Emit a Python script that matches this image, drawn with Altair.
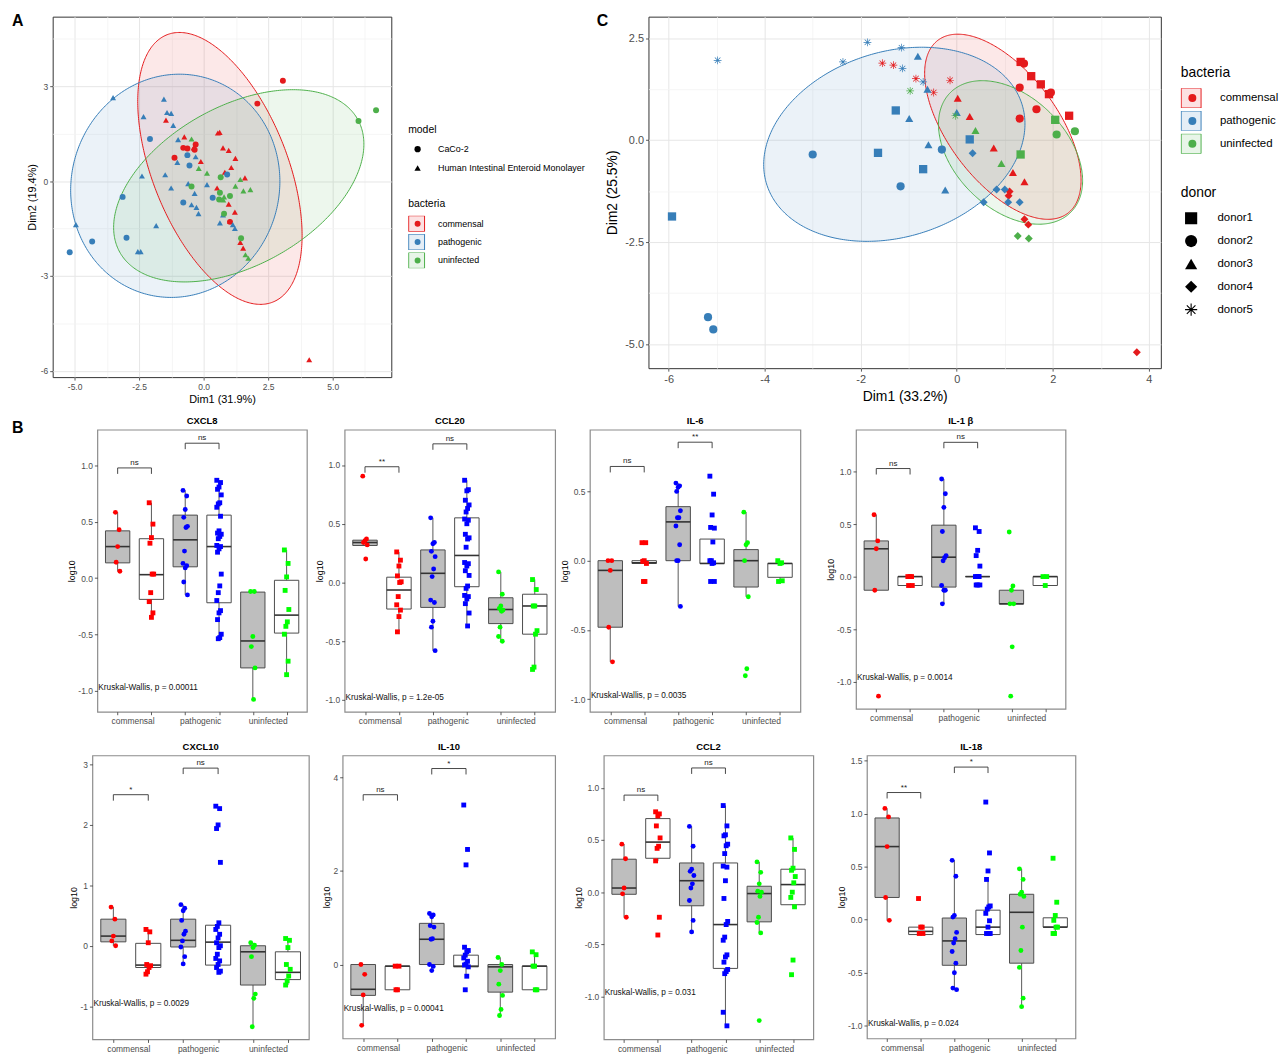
import math
import pandas as pd
import altair as alt

FONT = "Liberation Sans"
MINUS = "replace(datum.label, '\u2212', '-')"
BACTERIA = ["commensal", "pathogenic", "uninfected"]
SET1 = ["#E41A1C", "#377EB8", "#4DAF4A"]

# ------------------------------------------------------------------ Panel A
a_com_caco_x = [3.07, 2.08, -1.13, -0.79, -0.63, -0.31, -0.35, 1.02]
a_com_caco_y = [3.17, 2.45, 0.74, 1.05, 1.03, 1.16, 0.99, -1.29]
a_com_hiem_x = [4.09, -1.46, -0.75, 0.55, 0.62, -0.39, -0.11, 0.75, 0.97, 1.23, 1.07, 0.82, 1.6, 0.52, 0.97, 1.21, 1.02, 1.42, 1.53]
a_com_hiem_y = [-5.65, 1.93, 1.4, 1.52, 1.54, 1.05, 0.62, 1.05, 0.97, 0.72, 0.43, 0.28, 0.1, -0.22, -0.73, -0.98, -1.27, -1.94, -2.12]
a_pat_caco_x = [-5.19, -4.32, -2.99, -3.14, -2.08, -0.63, -0.55, -0.79, 0.35, 0.91]
a_pat_caco_y = [-2.25, -1.91, -1.79, -0.5, 1.33, 0.82, 0.49, -0.68, -0.53, 0.21]
a_pat_hiem_x = [-3.51, -1.54, -1.42, -1.26, -2.33, -1.18, -0.99, -1.02, -2.39, -1.49, -1.26, -0.6, -0.31, -0.35, 0.13, -0.47, -0.28, -0.2, 0.75, 0.63, 1.13, 1.21, -1.84, -4.95, -2.55, -2.44]
a_pat_hiem_y = [2.64, 2.59, 2.17, 2.14, 2.04, 1.76, 1.31, 0.59, 0.16, 0.2, -0.22, -0.08, 0.77, -0.39, -0.11, -0.75, -0.83, -1.03, -1.07, -1.32, -1.38, -1.5, -1.41, -1.38, -2.23, -2.23]
a_uni_caco_x = [6.68, 6.0, -0.47, 0.66, 0.63, 1.02, 0.6, 0.79, 1.45]
a_uni_caco_y = [2.24, 1.9, -0.17, 0.12, -0.37, -0.47, -0.58, -1.03, -1.81]
a_uni_hiem_x = [-0.47, -0.19, 0.13, 1.23, 1.42, 1.54, 1.81, 0.79, 0.76, 1.62, 1.73]
a_uni_hiem_y = [1.33, 0.4, 0.25, -0.16, 0.05, -0.31, -0.27, -0.5, -0.6, -2.33, -2.44]
A_MODELS = ["CaCo-2", "Human Intestinal Enteroid Monolayer"]

# ellipses: centre, top conjugate semi-axis (ux, uy), horizontal semi-axis h
a_ell_cx = [0.63, -1.1, 1.36]
a_ell_cy = [0.4, -0.15, -0.15]
a_ell_ux = [-1.57, 0.16, 2.1]
a_ell_uy = [4.3, 3.53, 3.04]
a_ell_h = [2.77, 4.05, 4.37]

# ------------------------------------------------------------------ Panel C
c_com_x = [-1.55, -1.32, -0.85, -0.48, -0.14, 1.33, 1.55, 1.75, 1.92, 2.34, 1.4, 1.31, 1.96, 1.66, 1.31, 0.02, 0.27, 0.77, 1.17, 1.41, 1.1, 1.08, 1.41, 1.49, 3.75]
c_com_y = [1.89, 1.84, 1.51, 1.17, 1.47, 1.92, 1.57, 1.37, 1.13, 0.6, 1.88, 1.29, 1.17, 0.76, 0.53, 1.03, 0.58, -0.19, -0.79, -1.02, -1.26, -1.36, -1.94, -2.07, -5.2]
c_com_d = ["donor5"] * 5 + ["donor1"] * 5 + ["donor2"] * 5 + ["donor3"] * 5 + ["donor4"] * 5
c_pat_x = [-4.98, -2.37, -1.86, -1.15, -1.13, -0.7, -5.93, -1.27, -1.64, -0.7, 0.27, -5.18, -5.07, -3.0, -1.17, -0.31, -0.81, -0.61, -0.99, -0.59, -0.24, 0.0, 0.33, 0.56, 0.83, 1.0, 1.07, 1.31]
c_pat_y = [1.96, 1.92, 2.4, 2.27, 1.76, 1.43, -1.87, 0.73, -0.31, -0.71, 0.02, -4.34, -4.64, -0.35, -1.13, -0.23, 2.06, 1.25, 0.53, -0.11, -1.22, 0.68, -0.32, -1.52, -1.21, -1.21, -1.52, -1.52]
c_pat_d = ["donor5"] * 6 + ["donor1"] * 5 + ["donor2"] * 5 + ["donor3"] * 6 + ["donor4"] * 6
c_uni_x = [-0.97, -0.03, 2.05, 1.33, 2.08, 2.46, 0.39, 0.93, 1.27, 1.5]
c_uni_y = [1.21, 0.6, 0.5, -0.35, 0.14, 0.22, 0.24, -0.57, -2.35, -2.41]
c_uni_d = ["donor5"] * 2 + ["donor1"] * 2 + ["donor2"] * 2 + ["donor3"] * 2 + ["donor4"] * 2
DONORS = ["donor1", "donor2", "donor3", "donor4", "donor5"]

c_ell_cx = [0.96, -1.3, 1.12]
c_ell_cy = [0.33, -0.1, -0.3]
c_ell_ux = [-0.94, 0.57, -0.59]
c_ell_uy = [2.27, 2.38, 1.76]
c_ell_h = [1.33, 2.66, 1.38]

# ------------------------------------------------------------------ Panel B (box plots)
# group order: commensal CaCo-2, commensal HIEM, pathogenic CaCo-2, pathogenic HIEM, uninfected CaCo-2, uninfected HIEM
cxcl8_pts = [
    [0.585, 0.43, 0.28, 0.14, 0.06],
    [0.67, 0.48, 0.36, 0.31, 0.035, 0.035, -0.13, -0.21, -0.31, -0.35],
    [0.78, 0.73, 0.61, 0.54, 0.46, 0.45, 0.24, 0.13, 0.11, 0.09, -0.035, -0.15],
    [0.87, 0.85, 0.81, 0.79, 0.74, 0.67, 0.66, 0.63, 0.55, 0.42, 0.40, 0.39, 0.37, 0.35, 0.29, 0.28, 0.26, 0.23, 0.035, -0.07, -0.13, -0.2, -0.29, -0.31, -0.37, -0.5, -0.53, -0.54],
    [-0.12, -0.12, -0.52, -0.61, -0.8, -1.08],
    [0.25, 0.13, 0.01, -0.11, -0.28, -0.39, -0.43, -0.5, -0.74, -0.86],
]
cxcl8_box = [[0.135, 0.28, 0.42, 0.06, 0.585], [-0.19, 0.03, 0.35, -0.35, 0.67], [0.10, 0.34, 0.56, -0.15, 0.78],
             [-0.22, 0.28, 0.56, -0.54, 0.87], [-0.8, -0.56, -0.125, -1.08, -0.12], [-0.49, -0.33, -0.02, -0.86, 0.25]]

ccl20_pts = [
    [0.905, 0.37, 0.355, 0.34, 0.32, 0.2],
    [0.26, 0.19, 0.14, 0.056, 0.006, 0.0, -0.12, -0.19, -0.235, -0.29, -0.42],
    [0.55, 0.34, 0.33, 0.265, 0.22, 0.115, 0.05, -0.15, -0.17, -0.33, -0.38, -0.58],
    [0.87, 0.79, 0.78, 0.70, 0.66, 0.63, 0.60, 0.54, 0.53, 0.50, 0.41, 0.38, 0.37, 0.30, 0.17, 0.16, 0.14, 0.10, 0.06, -0.03, -0.05, -0.11, -0.12, -0.14, -0.18, -0.26, -0.37],
    [0.09, -0.1, -0.2, -0.22, -0.235, -0.245, -0.38, -0.46, -0.5],
    [0.025, -0.06, -0.2, -0.2, -0.41, -0.44, -0.72, -0.74],
]
ccl20_box = [[0.315, 0.34, 0.36, 0.315, 0.36], [-0.226, -0.064, 0.045, -0.42, 0.26], [-0.212, 0.078, 0.277, -0.58, 0.55],
             [-0.036, 0.23, 0.55, -0.37, 0.87], [-0.35, -0.23, -0.13, -0.5, 0.09], [-0.44, -0.2, -0.1, -0.74, 0.025]]

il6_pts = [
    [0.0, 0.0, -0.07, -0.48, -0.73],
    [0.13, 0.13, 0.0, -0.005, -0.02, -0.15, -0.15],
    [0.56, 0.54, 0.53, 0.50, 0.36, 0.31, 0.31, 0.25, 0.115, 0.0, 0.0, -0.33],
    [0.61, 0.48, 0.33, 0.24, 0.235, 0.135, 0.0, 0.0, -0.015, -0.02, -0.15, -0.15],
    [0.35, 0.13, 0.115, 0.0, -0.26, -0.78, -0.83],
    [0.0, -0.015, -0.02, -0.15, -0.145],
]
il6_box = [[-0.48, -0.07, 0.0, -0.73, 0.0], [-0.02, -0.015, 0.0, -0.02, 0.0], [0.0, 0.28, 0.39, -0.33, 0.56],
           [-0.02, -0.02, 0.156, -0.02, 0.156], [-0.19, 0.0, 0.08, -0.26, 0.35], [-0.12, -0.02, -0.02, -0.15, -0.02]]

il1b_pts = [
    [0.59, 0.34, 0.265, -0.13, -1.14],
    [0.0, 0.0, 0.0, -0.085, -0.085],
    [0.93, 0.79, 0.66, 0.43, 0.2, 0.18, 0.15, -0.085, -0.13, -0.13, -0.26],
    [0.465, 0.43, 0.25, 0.2, 0.1, 0.0, 0.0, 0.0, 0.0, -0.08, -0.08, -0.08],
    [0.425, -0.09, -0.13, -0.26, -0.26, -0.67, -1.14],
    [0.0, 0.0, -0.085],
]
il1b_box = [[-0.13, 0.265, 0.34, -0.13, 0.59], [-0.085, 0.0, 0.0, -0.085, 0.0], [-0.1, 0.185, 0.49, -0.26, 0.93],
            [0.0, 0.0, 0.0, 0.0, 0.0], [-0.26, -0.26, -0.13, -0.26, -0.09], [-0.085, 0.0, 0.0, -0.085, 0.0]]

cxcl10_pts = [
    [0.64, 0.44, 0.16, 0.08, 0.0],
    [0.27, 0.23, 0.05, -0.31, -0.33, -0.36, -0.43, -0.47],
    [0.68, 0.62, 0.58, 0.42, 0.24, 0.19, 0.08, -0.02, -0.18, -0.3],
    [2.31, 2.27, 2.0, 1.94, 1.38, 0.38, 0.32, 0.27, 0.19, 0.13, 0.05, 0.0, -0.03, -0.14, -0.21, -0.25, -0.31, -0.36, -0.42, -0.44],
    [0.05, 0.01, -0.03, -0.18, -0.8, -0.87, -1.34],
    [0.12, 0.09, -0.03, -0.31, -0.39, -0.5, -0.58, -0.65],
]
cxcl10_box = [[0.065, 0.16, 0.44, 0.0, 0.64], [-0.36, -0.32, 0.04, -0.47, 0.27], [-0.02, 0.09, 0.44, -0.3, 0.68],
              [-0.32, 0.06, 0.34, -0.44, 0.38], [-0.65, -0.1, 0.0, -1.34, 0.05], [-0.56, -0.44, -0.1, -0.65, 0.12]]

il10_pts = [
    [0.0, -0.21, -0.65, -1.3],
    [-0.035, -0.035, -0.54, -0.54],
    [1.09, 1.06, 1.02, 0.83, 0.8, 0.55, 0.54, 0.0, -0.04, -0.13],
    [3.41, 2.46, 2.13, 0.37, 0.3, 0.27, 0.2, 0.14, 0.07, 0.01, -0.01, -0.05, -0.25, -0.54],
    [0.15, 0.0, -0.13, -0.42, -0.66, -0.96, -1.09],
    [0.27, 0.21, -0.035, -0.035, -0.54, -0.54],
]
il10_box = [[-0.66, -0.53, 0.0, -1.3, 0.0], [-0.54, -0.035, -0.035, -0.54, -0.035], [0.0, 0.54, 0.88, -0.13, 1.09],
            [-0.05, -0.035, 0.2, -0.25, 0.37], [-0.59, -0.05, 0.0, -1.09, 0.15], [-0.54, -0.035, -0.035, -0.54, 0.27]]

ccl2_pts = [
    [0.46, 0.32, 0.04, -0.016, -0.24],
    [0.77, 0.75, 0.73, 0.635, 0.52, 0.44, 0.42, 0.3, -0.24, -0.41],
    [0.63, 0.44, 0.22, 0.2, 0.16, 0.08, 0.04, -0.08, -0.27, -0.38],
    [0.83, 0.635, 0.55, 0.54, 0.46, 0.445, 0.37, 0.25, 0.24, 0.11, -0.06, -0.28, -0.31, -0.43, -0.46, -0.6, -0.62, -0.67, -0.74, -0.76, -0.78, -1.15, -1.28],
    [0.29, 0.19, 0.08, 0.01, 0.0, -0.04, -0.24, -0.29, -0.39, -1.23],
    [0.52, 0.41, 0.23, 0.21, 0.15, 0.09, 0.0, -0.05, -0.14, -0.65, -0.79],
]
ccl2_box = [[-0.02, 0.04, 0.316, -0.24, 0.46], [0.325, 0.48, 0.705, 0.3, 0.77], [-0.13, 0.11, 0.28, -0.38, 0.63],
            [-0.73, -0.31, 0.28, -1.28, 0.83], [-0.284, -0.013, 0.057, -0.39, 0.29], [-0.12, 0.073, 0.22, -0.14, 0.52]]

il18_pts = [
    [1.05, 0.97, 0.69, 0.21, -0.006],
    [0.2, -0.07, -0.07, -0.13, -0.13],
    [0.56, 0.41, 0.04, 0.025, -0.12, -0.18, -0.22, -0.3, -0.41, -0.5, -0.645, -0.66],
    [1.11, 0.63, 0.46, 0.38, 0.13, 0.12, 0.1, 0.06, -0.01, -0.07, -0.13, -0.13, -0.13],
    [0.48, 0.38, 0.26, 0.24, 0.22, -0.07, -0.29, -0.45, -0.74, -0.82],
    [0.58, 0.165, 0.04, -0.006, -0.07, -0.07, -0.13, -0.13],
]
il18_box = [[0.21, 0.69, 0.96, -0.006, 1.05], [-0.14, -0.11, -0.07, -0.14, -0.07], [-0.43, -0.2, 0.016, -0.66, 0.56],
            [-0.14, -0.07, 0.09, -0.14, 0.38], [-0.41, 0.07, 0.24, -0.82, 0.48], [-0.07, -0.07, 0.018, -0.13, 0.04]]

# bracket heights / labels (commensal pair, pathogenic pair), Kruskal-Wallis p
cxcl8_brk, cxcl8_sig, cxcl8_p = [0.98, 1.2], ["ns", "ns"], "0.00011"
ccl20_brk, ccl20_sig, ccl20_p = [0.985, 1.18], ["**", "ns"], "1.2e-05"
il6_brk, il6_sig, il6_p = [0.68, 0.855], ["ns", "**"], "0.0035"
il1b_brk, il1b_sig, il1b_p = [1.03, 1.28], ["ns", "ns"], "0.0014"
cxcl10_brk, cxcl10_sig, cxcl10_p = [2.5, 2.94], ["*", "ns"], "0.0029"
il10_brk, il10_sig, il10_p = [3.63, 4.19], ["ns", "*"], "0.00041"
ccl2_brk, ccl2_sig, ccl2_p = [0.93, 1.19], ["ns", "ns"], "0.031"
il18_brk, il18_sig, il18_p = [1.2, 1.44], ["**", "*"], "0.024"

GROUP_POS = [0.75, 1.25, 1.75, 2.25, 2.75, 3.25]
GROUP_BAC = ["commensal", "commensal", "pathogenic", "pathogenic", "uninfected", "uninfected"]
GROUP_MOD = ["CaCo-2", "HIEM"] * 3
PURE = ["#FF0000", "#0000FF", "#00FF00"]


def ellipse_frames(cx, cy, ux, uy, hx, fkey, ekey):
    area, line = [], []
    for i, name in enumerate(BACTERIA):
        R = math.hypot(ux[i], hx[i])
        for k in range(181):
            ph = math.pi * k / 180
            c, s = math.cos(ph), math.sin(ph)
            area.append({"x": cx[i] + R * c,
                         "ya": cy[i] + uy[i] * (ux[i] * c + hx[i] * s) / R,
                         "yb": cy[i] + uy[i] * (ux[i] * c - hx[i] * s) / R,
                         fkey: name})
        for k in range(361):
            ph = 2 * math.pi * k / 360
            c, s = math.cos(ph), math.sin(ph)
            line.append({"x": cx[i] + R * c,
                         "y": cy[i] + uy[i] * (ux[i] * c + hx[i] * s) / R,
                         ekey: name, "o": k})
    return pd.DataFrame(area), pd.DataFrame(line)


def star_path(t=0.09):
    parts = []
    for ang in (0, 45, 90, 135):
        a = math.radians(ang)
        c, s = math.cos(a), math.sin(a)
        pts = [(-1, -t), (1, -t), (1, t), (-1, t)]
        rp = [(x * c - y * s, x * s + y * c) for x, y in pts]
        parts.append("M" + "L".join(f"{x:.3f},{y:.3f}" for x, y in rp) + "Z")
    return "".join(parts)


def letter_layer(ch, dx, dy):
    return alt.Chart(pd.DataFrame({"t": [ch]})).mark_text(
        align="left", baseline="top", fontSize=16, fontWeight="bold", color="black"
    ).encode(text="t:N", x=alt.value(dx), y=alt.value(dy))


def phantom(dx):
    return alt.Chart(pd.DataFrame({"a": [0]})).mark_rule(opacity=0, strokeOpacity=0).encode(
        x=alt.value(dx), y=alt.value(0), y2=alt.value(1))


def spacer():
    return phantom(0).properties(width=1, height=1, view=alt.ViewBackground(stroke=None))


def pca_chart(pts, area, line, st, shape_enc, size_enc, extra):
    xs = alt.Scale(domain=st["xdom"], nice=False, zero=False)
    ys = alt.Scale(domain=st["ydom"], nice=False, zero=False)
    common_ax = dict(grid=True, gridColor="#E6E6E6", gridWidth=1, domain=False, tickSize=3,
                     tickColor="#333333", tickWidth=0.8, labelFontSize=st["lab"], labelColor="#4D4D4D",
                     labelPadding=2, titleFontSize=st["tit"], titleFontWeight="normal", titleColor="black",
                     labelFlush=False, labelOverlap=False, labelExpr=MINUS, minExtent=0)
    major_x = alt.Axis(values=st["xmaj"], format=st["xfmt"], title=st["xtitle"], titlePadding=st["xtp"], **common_ax)
    major_y = alt.Axis(values=st["ymaj"], format=st["yfmt"], title=st["ytitle"], titlePadding=st["ytp"], **common_ax)
    minor_x = alt.Axis(orient="top", values=st["xmin"], grid=True, gridColor="#F2F2F2", gridWidth=0.8,
                       labels=False, ticks=False, domain=False, title=None, minExtent=0, maxExtent=0)
    minor_y = alt.Axis(orient="right", values=st["ymin"], grid=True, gridColor="#F2F2F2", gridWidth=0.8,
                       labels=False, ticks=False, domain=False, title=None, minExtent=0, maxExtent=0)
    leg = dict(orient="none", legendX=st["legx"], legendY=st["bacy"], direction="vertical",
               titleFontSize=st["ltit"], titleFontWeight="normal", titleColor="black", titlePadding=st["ltp"],
               labelFontSize=st["llab"], labelColor="black", clipHeight=st["box"], rowPadding=st["rowpad"],
               padding=0)
    hidden = dict(title=" ", labelExpr="''")
    area_l = alt.Chart(area).mark_area(fillOpacity=0.1).encode(
        x=alt.X("x:Q", scale=xs, axis=minor_x),
        y=alt.Y("ya:Q", scale=ys, axis=minor_y),
        y2="yb:Q",
        fill=alt.Fill("bac_f:N", scale=alt.Scale(range=SET1), legend=alt.Legend(
            symbolType="square", symbolSize=st["box"] ** 2, labelOffset=st["box_lo"],
            symbolOpacity=0.13, symbolStrokeWidth=0, **hidden, **leg)),
    )
    line_l = alt.Chart(line).mark_line(strokeWidth=1).encode(
        x=alt.X("x:Q", scale=xs, axis=None),
        y=alt.Y("y:Q", scale=ys, axis=None),
        stroke=alt.Stroke("bac_e:N", scale=alt.Scale(range=SET1), legend=alt.Legend(
            symbolType="square", symbolSize=st["box"] ** 2, labelOffset=st["box_lo"],
            symbolFillColor="transparent", symbolStrokeWidth=1, **hidden, **leg)),
        order=alt.Order("o:Q"),
    )
    enc = dict(
        x=alt.X("x:Q", scale=xs, axis=major_x),
        y=alt.Y("y:Q", scale=ys, axis=major_y),
        color=alt.Color("bacteria:N", scale=alt.Scale(range=SET1), legend=alt.Legend(
            title="bacteria", symbolType="circle", symbolSize=st["dot"], symbolOffset=st["dot_off"],
            labelOffset=st["dot_lo"], symbolStrokeWidth=0, **leg)),
        shape=shape_enc,
    )
    if size_enc is not None:
        enc["size"] = size_enc
    pts_l = alt.Chart(pts).mark_point(filled=True, opacity=1, size=st["psize"]).encode(**enc)
    layers = [area_l, line_l, pts_l] + extra
    return alt.layer(*layers).resolve_axis(x="independent", y="independent").properties(
        width=st["w"], height=st["h"], view=alt.ViewBackground(stroke="#333333", strokeWidth=1))


# ---------------- build A
rowsA = []
for b, m, xs_, ys_ in [("commensal", A_MODELS[0], a_com_caco_x, a_com_caco_y),
                       ("commensal", A_MODELS[1], a_com_hiem_x, a_com_hiem_y),
                       ("pathogenic", A_MODELS[0], a_pat_caco_x, a_pat_caco_y),
                       ("pathogenic", A_MODELS[1], a_pat_hiem_x, a_pat_hiem_y),
                       ("uninfected", A_MODELS[0], a_uni_caco_x, a_uni_caco_y),
                       ("uninfected", A_MODELS[1], a_uni_hiem_x, a_uni_hiem_y)]:
    for x, y in zip(xs_, ys_):
        rowsA.append({"x": x, "y": y, "bacteria": b, "model": m})
ptsA = pd.DataFrame(rowsA)
areaA, lineA = ellipse_frames(a_ell_cx, a_ell_cy, a_ell_ux, a_ell_uy, a_ell_h, "bac_f", "bac_e")

stA = dict(xdom=[-5.85, 7.27], ydom=[-6.2, 5.2], xmaj=[-5, -2.5, 0, 2.5, 5], xfmt=".1f",
           xmin=[-6.25, -3.75, -1.25, 1.25, 3.75, 6.25], ymaj=[-6, -3, 0, 3], yfmt="d",
           ymin=[-4.5, -1.5, 1.5, 4.5], xtitle="Dim1 (31.9%)", ytitle="Dim2 (19.4%)",
           lab=8.5, tit=11, xtp=3, ytp=3, w=341, h=363, legx=358, bacy=184, ltit=10.5, ltp=6,
           llab=9, box=16, rowpad=2.5, box_lo=6, dot=36, dot_off=5, dot_lo=16, psize=36)
shapeA = alt.Shape("model:N", scale=alt.Scale(domain=A_MODELS, range=["circle", "triangle-up"]),
                   legend=alt.Legend(orient="none", legendX=358, legendY=109, direction="vertical",
                                     title="model", titleFontSize=10.5, titleFontWeight="normal",
                                     titleColor="black", titlePadding=6, labelFontSize=9, labelColor="black",
                                     clipHeight=16, rowPadding=3, padding=0, symbolSize=40,
                                     symbolFillColor="black", symbolStrokeColor="black", symbolStrokeWidth=0,
                                     symbolOffset=5, labelOffset=16))
chartA = pca_chart(ptsA, areaA, lineA, stA, shapeA, None,
                   [letter_layer("A", -41, -4), phantom(341 + 205)])

# ---------------- build C
rowsC = []
for b, xs_, ys_, ds_ in [("commensal", c_com_x, c_com_y, c_com_d),
                         ("pathogenic", c_pat_x, c_pat_y, c_pat_d),
                         ("uninfected", c_uni_x, c_uni_y, c_uni_d)]:
    for x, y, d in zip(xs_, ys_, ds_):
        rowsC.append({"x": x, "y": y, "bacteria": b, "donor": d, "donor_sz": d})
ptsC = pd.DataFrame(rowsC)
areaC, lineC = ellipse_frames(c_ell_cx, c_ell_cy, c_ell_ux, c_ell_uy, c_ell_h, "bac_f", "bac_e")

stC = dict(xdom=[-6.42, 4.25], ydom=[-5.59, 3.03], xmaj=[-6, -4, -2, 0, 2, 4], xfmt="d",
           xmin=[-5, -3, -1, 1, 3], ymaj=[-5, -2.5, 0, 2.5], yfmt=".1f", ymin=[-3.75, -1.25, 1.25],
           xtitle="Dim1 (33.2%)", ytitle="Dim2 (25.5%)", lab=11, tit=14, xtp=6, ytp=5, w=516, h=354,
           legx=536, bacy=50, ltit=14, ltp=8, llab=11.5, box=20, rowpad=3, box_lo=10, dot=64, dot_off=6,
           dot_lo=22, psize=60)
STAR = star_path()
shapeC = alt.Shape("donor:N", scale=alt.Scale(domain=DONORS, range=["square", "circle", "triangle-up", "diamond", STAR]),
                   legend=alt.Legend(orient="none", legendX=536, legendY=171, direction="vertical",
                                     title="donor", titleFontSize=14, titleFontWeight="normal",
                                     titleColor="black", titlePadding=8, labelFontSize=11.5, labelColor="black",
                                     clipHeight=20, rowPadding=3, padding=0, symbolSize=150,
                                     symbolFillColor="black", symbolStrokeColor="black", symbolStrokeWidth=0,
                                     symbolOffset=4, labelOffset=20))
# size follows donor (asterisk drawn larger); data-driven domain keeps its legend separate from the shape legend
sizeC = alt.Size("donor_sz:O", scale=alt.Scale(range=[70, 62, 62, 45, 260]), legend=None)
chartC = pca_chart(ptsC, areaC, lineC, stC, shapeC, sizeC, [letter_layer("C", -52, -4)])


# ---------------- box panels
def box_panel(title, pts, box, ydom, yticks, yfmt, brk, sig, pval, kw_y, w, h, left_ext, letter=None):
    xs = alt.Scale(domain=[0.45, 3.55], nice=False, zero=False)
    ys = alt.Scale(domain=ydom, nice=False, zero=False)
    xax = alt.Axis(values=GROUP_POS, title=None, grid=False, domain=False, tickSize=3, tickColor="#333333",
                   tickWidth=0.8, labelFontSize=8.5, labelColor="#4D4D4D", labelPadding=2, labelOffset=15,
                   labelOverlap=False, labelFlush=False, minExtent=0,
                   labelExpr="datum.value == 0.75 ? 'commensal' : datum.value == 1.75 ? 'pathogenic' : datum.value == 2.75 ? 'uninfected' : ''")
    yax = alt.Axis(values=yticks, format=yfmt, labelExpr=MINUS, title="log10", titleFontSize=9,
                   titleFontWeight="normal", titleColor="black", titlePadding=1, grid=False, domain=False,
                   tickSize=3, tickColor="#333333", tickWidth=0.8, labelFontSize=8.5, labelColor="#4D4D4D",
                   labelPadding=2, labelOverlap=False, labelFlush=False, minExtent=0)
    boxdf = pd.DataFrame({"pos": GROUP_POS, "model": GROUP_MOD,
                          "q1": [b[0] for b in box], "med": [b[1] for b in box], "q3": [b[2] for b in box],
                          "lo": [b[3] for b in box], "hi": [b[4] for b in box]})
    prow = []
    for g, vals in enumerate(pts):
        for i, v in enumerate(vals):
            prow.append({"pos": GROUP_POS[g], "val": v, "bacteria": GROUP_BAC[g], "model": GROUP_MOD[g], "idx": i})
    ptdf = pd.DataFrame(prow)
    X = lambda f: alt.X(f, scale=xs, axis=xax)
    Y = lambda f: alt.Y(f, scale=ys, axis=yax)
    fill_scale = alt.Scale(domain=["CaCo-2", "HIEM"], range=["#BEBEBE", "#FFFFFF"])
    whisk = alt.Chart(boxdf).mark_rule(color="#595959", strokeWidth=1).encode(x=X("pos:Q"), y=Y("lo:Q"), y2="hi:Q")
    boxes = alt.Chart(boxdf).transform_calculate(xl="datum.pos - 0.18", xr="datum.pos + 0.18").mark_bar(
        stroke="#4D4D4D", strokeWidth=1).encode(
        x=X("xl:Q"), x2="xr:Q", y=Y("q1:Q"), y2="q3:Q",
        fill=alt.Fill("model:N", scale=fill_scale, legend=None))
    med = alt.Chart(boxdf).transform_calculate(xl="datum.pos - 0.18", xr="datum.pos + 0.18").mark_rule(
        color="#333333", strokeWidth=1.6).encode(x=X("xl:Q"), x2="xr:Q", y=Y("med:Q"))
    dots = alt.Chart(ptdf).transform_calculate(
        xj="datum.pos + ((datum.idx * 5) % 7 - 3) * 0.011").mark_point(filled=True, opacity=1, size=24).encode(
        x=X("xj:Q"), y=Y("val:Q"),
        color=alt.Color("bacteria:N", scale=alt.Scale(domain=BACTERIA, range=PURE), legend=None),
        shape=alt.Shape("model:N", scale=alt.Scale(domain=["CaCo-2", "HIEM"], range=["circle", "square"]), legend=None))
    drop = 6.0 * (ydom[1] - ydom[0]) / h
    bdf = pd.DataFrame({"x1": [0.75, 1.75], "x2": [1.25, 2.25], "xm": [1.0, 2.0], "y": brk, "lab": sig})
    bdf["yd"] = bdf["y"] - drop
    ends = pd.DataFrame({"x": list(bdf["x1"]) + list(bdf["x2"]), "y": list(bdf["y"]) * 2, "yd": list(bdf["yd"]) * 2})
    bh = alt.Chart(bdf).mark_rule(color="#333333", strokeWidth=0.9).encode(x=X("x1:Q"), x2="x2:Q", y=Y("y:Q"))
    bv = alt.Chart(ends).mark_rule(color="#333333", strokeWidth=0.9).encode(x=X("x:Q"), y=Y("y:Q"), y2="yd:Q")
    bt = alt.Chart(bdf).mark_text(fontSize=8, baseline="bottom", dy=-1, color="#222222").encode(
        x=X("xm:Q"), y=Y("y:Q"), text="lab:N")
    kw = alt.Chart(pd.DataFrame({"kx": [0.45], "ky": [kw_y], "t": ["Kruskal-Wallis, p = " + pval]})).mark_text(
        align="left", baseline="middle", fontSize=8.3, dx=1, color="#111111").encode(
        x=X("kx:Q"), y=Y("ky:Q"), text="t:N")
    layers = [phantom(-left_ext), whisk, boxes, med, dots, bh, bv, bt, kw]
    tdy = 0
    if letter:
        layers.append(letter_layer(letter, -86, -10))
        tdy = 10
    return alt.layer(*layers).properties(
        width=w, height=h,
        title=alt.TitleParams(title, fontSize=9.5, fontWeight="bold", offset=4, color="black", dy=tdy),
        view=alt.ViewBackground(stroke="#8C8C8C", strokeWidth=1.2))


T5 = [-1.0, -0.5, 0.0, 0.5, 1.0]
p1 = box_panel("CXCL8", cxcl8_pts, cxcl8_box, [-1.19, 1.32], T5, ".1f", cxcl8_brk, cxcl8_sig, cxcl8_p, -0.98, 211, 284, 30, "B")
p2 = box_panel("CCL20", ccl20_pts, ccl20_box, [-1.1, 1.3], T5, ".1f", ccl20_brk, ccl20_sig, ccl20_p, -0.98, 212, 284, 36)
p3 = box_panel("IL-6", il6_pts, il6_box, [-1.09, 0.945], [-1.0, -0.5, 0.0, 0.5], ".1f", il6_brk, il6_sig, il6_p, -0.98, 212, 284, 33)
p4 = box_panel("IL-1 \u03b2", il1b_pts, il1b_box, [-1.26, 1.40], T5, ".1f", il1b_brk, il1b_sig, il1b_p, -0.97, 211, 281, 54)
p5 = box_panel("CXCL10", cxcl10_pts, cxcl10_box, [-1.55, 3.15], [-1, 0, 1, 2, 3], "d", cxcl10_brk, cxcl10_sig, cxcl10_p, -0.96, 218, 286, 81)
p6 = box_panel("IL-10", il10_pts, il10_box, [-1.58, 4.47], [0, 2, 4], "d", il10_brk, il10_sig, il10_p, -0.95, 214, 285, 32)
p7 = box_panel("CCL2", ccl2_pts, ccl2_box, [-1.41, 1.31], T5, ".1f", ccl2_brk, ccl2_sig, ccl2_p, -0.97, 211, 286, 47)
p8 = box_panel("IL-18", il18_pts, il18_box, [-1.12, 1.55], [-1.0, -0.5, 0.0, 0.5, 1.0, 1.5], ".1f", il18_brk, il18_sig, il18_p, -0.98, 210, 285, 52)

IND = dict(color="independent", fill="independent", stroke="independent", shape="independent", size="independent")
row1 = alt.hconcat(spacer(), chartA, chartC, spacing=0).resolve_scale(**IND)
row2 = alt.hconcat(spacer(), p1, p2, p3, p4, spacing=0)
row3 = alt.hconcat(spacer(), p5, p6, p7, p8, spacing=0)
rows23 = alt.vconcat(row2, row3, spacing=14)
chart = alt.vconcat(row1, rows23, spacing=10).resolve_scale(**IND).properties(
    padding={"left": 2, "top": 0, "right": 0, "bottom": 0}
).configure(font=FONT).configure_view(stroke=None).configure_axis(minExtent=0)

chart.save("out.html", embed_options={"renderer": "svg", "actions": False})
